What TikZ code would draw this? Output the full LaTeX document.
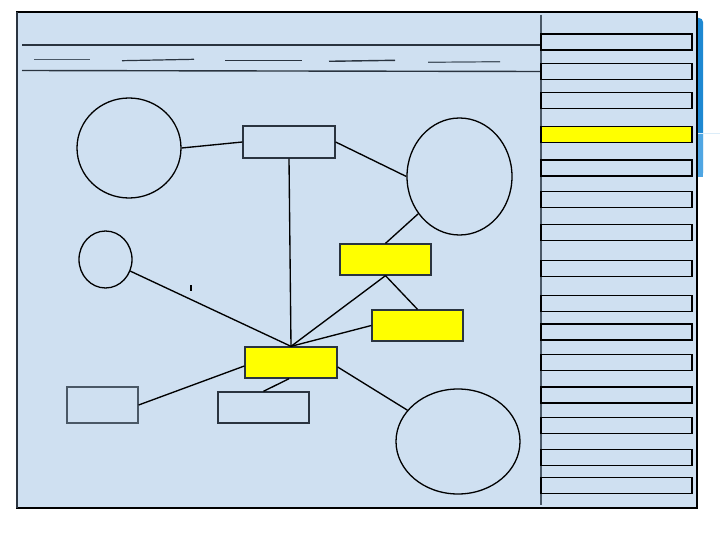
\documentclass[tikz,border=0pt]{standalone}
\usetikzlibrary{shapes.geometric}
\definecolor{bgblue}{HTML}{CFE0F1}
\definecolor{stripblue}{HTML}{1E88D2}
\definecolor{stripblue2}{HTML}{4FA6E3}
\definecolor{darkline}{HTML}{2A3440}
\definecolor{grayline}{HTML}{4A5866}
\definecolor{pureyellow}{HTML}{FFFF00}
\begin{document}
\begin{tikzpicture}[x=1pt,y=-1pt,
  ell/.style={ellipse,draw=black,line width=1.3pt,inner sep=0pt,fill=bgblue},
  plainbox/.style={rectangle,draw=darkline,line width=1.3pt,inner sep=0pt,fill=bgblue},
  yellowbox/.style={rectangle,draw=darkline,line width=1.3pt,inner sep=0pt,fill=pureyellow},
  listbox/.style={rectangle,draw=black,line width=1.4pt,inner sep=0pt,fill=bgblue,minimum width=151pt,minimum height=16pt},
  listyellow/.style={listbox,fill=pureyellow},
  conn/.style={draw=black,line width=1.35pt},
  rule/.style={draw=darkline,line width=1.2pt}]
\useasboundingbox (0,0) rectangle (720,540);
\fill[white] (0,0) rectangle (720,540);
% blue decorative strip
\fill[stripblue,rounded corners=4pt] (690,18) rectangle (703,177);
\fill[stripblue2] (697,134) rectangle (703,177);
\draw[white!80!stripblue2,line width=0.8pt] (697,133) -- (720,133);
% frame
\draw[fill=bgblue,draw=black,line width=1.4pt] (17,12) rectangle (697,508);
\draw[line width=1.8pt,draw=darkline] (17,12) -- (17,508);
% divider
\draw[draw=grayline,line width=1.4pt] (541,15) -- (541,505);
% header lines
\draw[rule] (22,45) -- (541,45);
\draw[rule,line width=1.4pt] (22,70.5) -- (541,71.5);
\draw[rule,draw=grayline] (34,59.7) -- (90,59.7);
\draw[rule] (122,60.7) -- (194,59.3);
\draw[rule,line width=1.4pt] (225,60.7) -- (302,60.7);
\draw[rule,line width=1.4pt] (329,61.3) -- (395,60.3);
\draw[rule,draw=grayline] (428,62.3) -- (500,61.7);
% right list boxes
\foreach \n/\y in {1/42,2/71.5,3/100.5,5/168,6/199.5,7/232.5,8/268.5,9/303.5,10/332,11/362.5,12/395,13/425.5,14/457.5,15/485.5}{
  \node[listbox] (L\n) at (616.5,\y) {};
}
\node[listyellow] (L4) at (616.5,134.5) {};
% diagram nodes
\node[ell,minimum width=104pt,minimum height=100pt] (A) at (129,148) {};
\node[plainbox,minimum width=92pt,minimum height=32pt] (B) at (289,142) {};
\node[ell,minimum width=105pt,minimum height=117pt] (C) at (459.5,176.5) {};
\node[ell,minimum width=53pt,minimum height=57pt] (D) at (105.5,259.5) {};
\node[yellowbox,minimum width=91pt,minimum height=31pt] (E) at (385.5,259.5) {};
\node[yellowbox,minimum width=91pt,minimum height=31pt] (F) at (417.5,325.5) {};
\node[yellowbox,minimum width=92pt,minimum height=31pt] (G) at (291,362.5) {};
\node[plainbox,draw=grayline,minimum width=71pt,minimum height=36pt] (H) at (102.5,405) {};
\node[plainbox,minimum width=91pt,minimum height=31pt] (I) at (263.5,407.5) {};
\node[ell,minimum width=124pt,minimum height=105pt] (J) at (458,441.5) {};
% connectors
\draw[conn] (A.east) -- (B.west);
\draw[conn] (B.east) -- (C.west);
\draw[conn] (B.south) -- (G.north);
\draw[conn] (C) -- (E.north);
\draw[conn] (E.south) -- (F.north);
\draw[conn] (E.south) -- (G.north);
\draw[conn] (F.west) -- (G.north);
\draw[conn] (D) -- (G.north);
\draw[conn] ([yshift=-3.5pt]G.west) -- (H.east);
\draw[conn] ([xshift=-2pt]G.south) -- (I.north);
\draw[conn] ([yshift=-4.5pt]G.east) -- (J);
% stray tick
\draw[conn] (191,285) -- (191,291);
\end{tikzpicture}
\end{document}
